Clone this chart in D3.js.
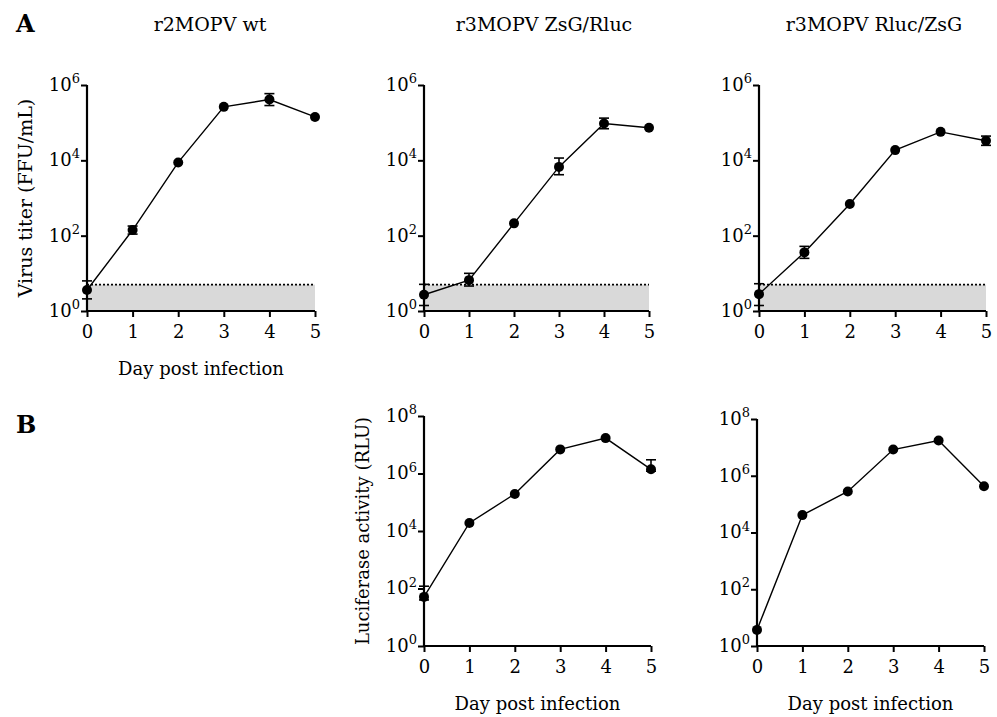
<!DOCTYPE html>
<html>
<head>
<meta charset="utf-8">
<script src="https://cdn.jsdelivr.net/npm/d3@7"></script>
<style>
  body { margin: 0; background: #fff; }
  svg { display: block; }
  svg text { font-family: "DejaVu Serif", serif; }
</style>
</head>
<body>
<svg id="fig" width="997" height="717"></svg>
<script>
// days on the x axis
var days = [0, 1, 2, 3, 4, 5];
var dayTicks = ["0", "1", "2", "3", "4", "5"];

// virus titer (FFU/mL)
var titerWt = [3.6, 141, 8800, 263000, 410000, 142000];
var titerWtHi = [6.3, 180, null, null, 590000, null];
var titerWtLo = [2.1, 110, null, null, 285000, null];

var titerZsRl = [2.7, 6.6, 212, 6700, 95000, 73000];
var titerZsRlHi = [5.1, 10, null, 11500, 132000, null];
var titerZsRlLo = [1.4, 4.6, null, 4150, 69000, null];

var titerRlZs = [2.8, 36, 690, 18700, 57000, 33000];
var titerRlZsHi = [5.3, 52, null, null, null, 44000];
var titerRlZsLo = [1.4, 25, null, null, null, 25000];

// luciferase activity (RLU)
var lucZsRl = [51, 19000, 195000, 6900000, 17000000, 1400000];
var lucZsRlHi = [120, null, null, null, null, 3000000];
var lucZsRlLo = [40, null, null, null, null, 1200000];

var lucRlZs = [3.7, 41000, 280000, 8400000, 17500000, 425000];

var detectionLimit = 5;
var titerTicks = [1, 1e2, 1e4, 1e6];
var lucTicks = [1, 1e2, 1e4, 1e6, 1e8];

var svg = d3.select("#fig");

function panel(opt) {
  var x = d3.scaleLinear().domain([0, 5]).range([opt.x0, opt.x1]);
  var y = d3.scaleLog().domain(opt.domain).range([opt.y0, opt.y1]);
  var g = svg.append("g");

  if (opt.limit) {
    g.append("rect")
      .attr("x", x(0)).attr("y", y(opt.limit))
      .attr("width", x(5) - x(0)).attr("height", y(opt.domain[0]) - y(opt.limit))
      .attr("fill", "#d9d9d9");
    g.append("line")
      .attr("x1", x(0)).attr("x2", x(5))
      .attr("y1", y(opt.limit)).attr("y2", y(opt.limit))
      .attr("stroke", "#000").attr("stroke-width", 1.6)
      .attr("stroke-dasharray", "2,2");
  }

  var xAxis = d3.axisBottom(x).tickValues(days).tickFormat(function(d, i) { return dayTicks[i]; })
    .tickSizeOuter(0).tickSizeInner(6).tickPadding(8);
  var gx = g.append("g").attr("transform", "translate(0," + opt.y0 + ")").call(xAxis);

  var yAxis = d3.axisLeft(y).tickValues(opt.ticks).tickFormat("")
    .tickSizeOuter(0).tickSizeInner(6).tickPadding(6);
  var gy = g.append("g").attr("transform", "translate(" + opt.x0 + ",0)").call(yAxis);

  [gx, gy].forEach(function(a) {
    a.attr("font-family", null);
    a.select(".domain").attr("stroke-width", 2.2).attr("stroke", "#000");
    a.selectAll(".tick line").attr("stroke-width", 2).attr("stroke", "#000");
    a.selectAll(".tick text").attr("font-size", 18).attr("fill", "#000");
  });
  gx.select(".domain").attr("d", "M" + (opt.x0 - 1) + ",0H" + opt.x1);
  gy.select(".domain").attr("d", "M0," + (opt.y0 + 1) + "V" + opt.y1);

  gy.selectAll(".tick text").each(function(d) {
    var t = d3.select(this);
    t.attr("x", -7).attr("dy", "0.3em");
    t.append("tspan").text("10");
    t.append("tspan").attr("font-size", 13).attr("dy", "-0.6em").text(Math.round(Math.log10(d)));
  });

  // connecting line
  var line = d3.line().x(function(d, i) { return x(days[i]); }).y(function(d) { return y(d); });
  g.append("path").datum(opt.values).attr("d", line)
    .attr("fill", "none").attr("stroke", "#000").attr("stroke-width", 1.4);

  // error bars
  if (opt.hi) {
    days.forEach(function(d, i) {
      if (opt.hi[i] == null) return;
      var cx = x(d), yh = y(opt.hi[i]), yl = y(opt.lo[i]);
      var eb = g.append("g").attr("stroke", "#000").attr("stroke-width", 1.6);
      eb.append("line").attr("x1", cx).attr("x2", cx).attr("y1", yh).attr("y2", yl);
      eb.append("line").attr("x1", cx - 5).attr("x2", cx + 5).attr("y1", yh).attr("y2", yh);
      eb.append("line").attr("x1", cx - 5).attr("x2", cx + 5).attr("y1", yl).attr("y2", yl);
    });
  }

  g.selectAll("circle.pt").data(opt.values).enter().append("circle")
    .attr("class", "pt")
    .attr("cx", function(d, i) { return x(days[i]); })
    .attr("cy", function(d) { return y(d); })
    .attr("r", 5).attr("fill", "#000");

  if (opt.title) {
    g.append("text").attr("x", opt.titleX).attr("y", 31)
      .attr("text-anchor", "middle").attr("font-size", 19)
      .text(opt.title);
  }
  if (opt.xlabel) {
    g.append("text").attr("x", (opt.x0 + opt.x1) / 2).attr("y", opt.y0 + 64)
      .attr("text-anchor", "middle").attr("font-size", 18)
      .text(opt.xlabel);
  }
  if (opt.ylabel) {
    g.append("text")
      .attr("transform", "translate(" + (opt.x0 - 55) + "," + ((opt.y0 + opt.y1) / 2) + ") rotate(-90)")
      .attr("text-anchor", "middle").attr("font-size", opt.ylabelSize)
      .text(opt.ylabel);
  }
}

panel({ x0: 87, x1: 315, y0: 311, y1: 85, domain: [1, 1e6], ticks: titerTicks,
  values: titerWt, hi: titerWtHi, lo: titerWtLo, limit: detectionLimit,
  title: "r2MOPV wt", titleX: 210, xlabel: "Day post infection",
  ylabel: "Virus titer (FFU/mL)", ylabelSize: 19 });
panel({ x0: 424, x1: 649, y0: 311, y1: 85, domain: [1, 1e6], ticks: titerTicks,
  values: titerZsRl, hi: titerZsRlHi, lo: titerZsRlLo, limit: detectionLimit,
  title: "r3MOPV ZsG/Rluc", titleX: 544 });
panel({ x0: 759, x1: 986, y0: 311, y1: 85, domain: [1, 1e6], ticks: titerTicks,
  values: titerRlZs, hi: titerRlZsHi, lo: titerRlZsLo, limit: detectionLimit,
  title: "r3MOPV Rluc/ZsG", titleX: 874 });
panel({ x0: 424, x1: 651, y0: 646, y1: 416, domain: [1, 1e8], ticks: lucTicks,
  values: lucZsRl, hi: lucZsRlHi, lo: lucZsRlLo,
  xlabel: "Day post infection", ylabel: "Luciferase activity (RLU)", ylabelSize: 18 });
panel({ x0: 757, x1: 984, y0: 646, y1: 419, domain: [1, 1e8], ticks: lucTicks,
  values: lucRlZs, xlabel: "Day post infection" });

svg.append("text").attr("x", 16).attr("y", 32).attr("font-size", 24).attr("font-weight", "bold").text("A");
svg.append("text").attr("x", 16).attr("y", 433).attr("font-size", 24).attr("font-weight", "bold").text("B");
</script>
</body>
</html>
